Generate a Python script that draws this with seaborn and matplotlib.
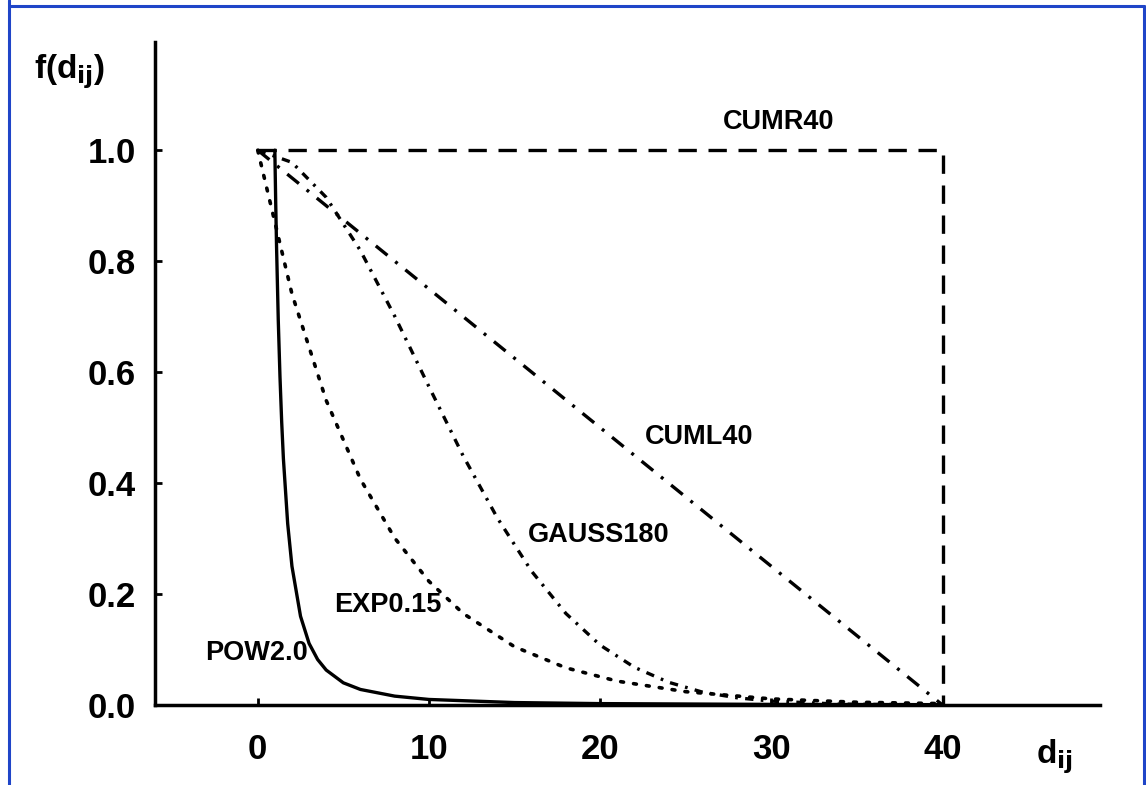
"""Distance decay functions f(d_ij): POW, EXP, GAUSS, CUML, CUMR."""

import matplotlib

matplotlib.use("Agg")
import matplotlib.pyplot as plt
import pandas as pd
import seaborn as sns
from matplotlib.lines import Line2D

# values
pow_d = [1.0, 1.05, 1.1, 1.2, 1.3, 1.4, 1.5, 1.75, 2.0, 2.5, 3.0, 3.5, 4.0, 5.0, 6.0, 8.0, 10.0, 15.0, 20.0, 30.0, 40.0]
pow_f = [1.0, 0.907, 0.826, 0.694, 0.592, 0.510, 0.444, 0.327, 0.250, 0.160, 0.111, 0.082, 0.063, 0.040, 0.028, 0.016, 0.010, 0.0044, 0.0025, 0.0011, 0.0006]

exp_d = [0, 2, 4, 6, 8, 10, 12, 15, 18, 21, 25, 30, 35, 40]
exp_f = [1.0, 0.741, 0.549, 0.407, 0.301, 0.223, 0.165, 0.105, 0.067, 0.043, 0.024, 0.011, 0.005, 0.0025]

gauss_d = [0, 2, 4, 6, 8, 10, 12, 14, 16, 18, 20, 22, 24, 26, 28, 30, 34, 40]
gauss_f = [1.0, 0.978, 0.915, 0.819, 0.701, 0.574, 0.449, 0.337, 0.241, 0.165, 0.108, 0.068, 0.041, 0.023, 0.013, 0.007, 0.0016, 0.0001]

cuml_d = [0, 40]
cuml_f = [1.0, 0.0]

cumr_d = [0, 40, 40]
cumr_f = [1.0, 1.0, 0.0]

curve_names = ["POW2.0", "EXP0.15", "GAUSS180", "CUML40", "CUMR40"]
label_pos = [(-0.1, 0.094), (7.6, 0.18), (19.9, 0.306), (25.8, 0.483), (30.4, 1.05)]

x_ticks = [0, 10, 20, 30, 40]
y_ticks = [0.0, 0.2, 0.4, 0.6, 0.8, 1.0]

sns.set_style("ticks")
plt.rcParams["font.family"] = ["Liberation Sans", "DejaVu Sans"]
plt.rcParams["font.weight"] = "bold"
plt.rcParams["text.color"] = "black"
plt.rcParams["axes.edgecolor"] = "black"
plt.rcParams["xtick.color"] = "black"
plt.rcParams["ytick.color"] = "black"

fig = plt.figure(figsize=(11.46, 7.85), dpi=100)
ax = fig.add_axes([155 / 1146, 80 / 785, 945 / 1146, 663 / 785])

series = [
    (pow_d, pow_f, dict(linestyle="-", linewidth=2.4)),
    (exp_d, exp_f, dict(linestyle=(0, (0.8, 2.8)), linewidth=2.6, dash_capstyle="round")),
    (gauss_d, gauss_f, dict(linestyle=(0, (2.5, 2.2, 0.8, 2.2)), linewidth=2.4)),
    (cuml_d, cuml_f, dict(linestyle=(0, (4.5, 3.0, 0.9, 3.0)), linewidth=2.4)),
    (cumr_d, cumr_f, dict(linestyle=(0, (5.5, 3.5)), linewidth=2.4)),
]
for name, (d, f, style) in zip(curve_names, series):
    df = pd.DataFrame({"d": d, "f": f})
    sns.lineplot(data=df, x="d", y="f", ax=ax, color="black", sort=False,
                 estimator=None, **style)

for name, (tx, ty) in zip(curve_names, label_pos):
    ax.text(tx, ty, name, ha="center", va="center", fontsize=19.5, fontweight="bold",
            color="black")

ax.set_xlim(-6, 49.2)
ax.set_ylim(0, 1.195)
ax.set_xticks(x_ticks)
ax.set_xticklabels([str(t) for t in x_ticks])
ax.set_yticks(y_ticks)
ax.set_yticklabels([f"{t:.1f}" for t in y_ticks])
ax.tick_params(axis="both", direction="in", length=5, width=2, labelsize=25,
               colors="black")
ax.tick_params(axis="y", pad=14)
ax.tick_params(axis="x", pad=20)
for lbl in ax.get_xticklabels() + ax.get_yticklabels():
    lbl.set_fontweight("bold")
sns.despine(ax=ax)
ax.spines["left"].set_linewidth(2.5)
ax.spines["bottom"].set_linewidth(2.5)
ax.set_xlabel("")
ax.set_ylabel("")

fig.text(70 / 1146, 1 - 72 / 785, r"f(d$_{\mathbf{ij}}$)", ha="center", va="center",
         fontsize=24, fontweight="bold")
fig.text(1054 / 1146, 1 - 757 / 785, r"d$_{\mathbf{ij}}$", ha="center", va="center",
         fontsize=24, fontweight="bold")

# blue frame around the figure
blue = "#1f45c8"
for xs, ys in [([9, 9], [0, 785]), ([9, 1144], [6, 6]), ([1144, 1144], [6, 785])]:
    fig.add_artist(Line2D([x / 1146 for x in xs], [1 - y / 785 for y in ys],
                          transform=fig.transFigure, color=blue, linewidth=2.2))

fig.savefig("out.png", dpi=100)
